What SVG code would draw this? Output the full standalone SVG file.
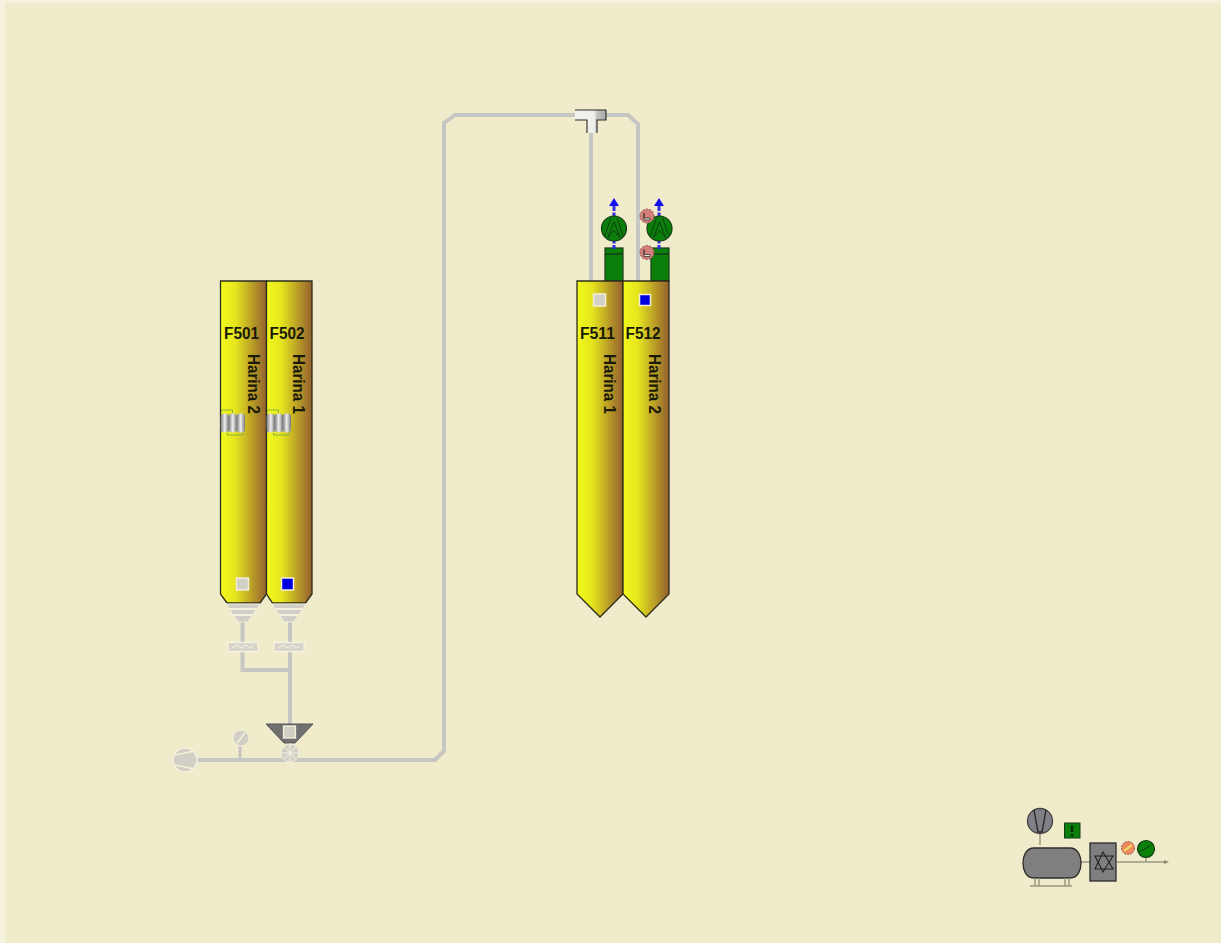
<svg xmlns="http://www.w3.org/2000/svg" width="1221" height="943" viewBox="0 0 1221 943">
<style>
.pipe{fill:none;stroke:#c6c6c2;stroke-width:4}
.thin{fill:none;stroke:#c6c6c2;stroke-width:3}
.silo{fill:url(#sg);stroke:#2c2c1c;stroke-width:1.3}
.t{font:bold 16px "Liberation Sans",Arial,sans-serif;fill:#1a1a08}
.tag{font:bold 16px "Liberation Sans",Arial,sans-serif;fill:#1a1a08;text-anchor:middle}
.sq{stroke:#f2eed6;stroke-width:1.5}
.grn{fill:#0a800a;stroke:#143c14;stroke-width:1.2}
.wh{fill:#d2d0c6;stroke:#f4f1dc;stroke-width:1.3}
.gry{fill:#7f7f7f;stroke:#2c2c2c;stroke-width:1.3}
.ln{fill:none;stroke:#133c13;stroke-width:1}
.br{fill:none;stroke:#9a9880;stroke-width:1.5}
</style>
<defs>
<linearGradient id="sg" x1="0" x2="1" y1="0" y2="0"><stop offset="0" stop-color="#f2fa1c"/><stop offset=".32" stop-color="#e6e61e"/><stop offset="1" stop-color="#94602e"/></linearGradient>
<linearGradient id="cyl" x1="0" x2="1" y1="0" y2="0"><stop offset="0" stop-color="#77777a"/><stop offset=".5" stop-color="#eeeeee"/><stop offset="1" stop-color="#77777a"/></linearGradient>
<linearGradient id="tee" x1="0" x2="1" y1="0" y2="0"><stop offset="0" stop-color="#f2f2ee"/><stop offset=".62" stop-color="#eeeeea"/><stop offset=".7" stop-color="#c4c4c0"/><stop offset="1" stop-color="#a8a8a8"/></linearGradient>
<g id="drive"><path d="M-14-11V-13H-3V-10M-8 10V12H7V10" fill="none" stroke="#86b040" stroke-width="1"/><rect x="-15" y="-9.500" width="8.500" height="19" rx="3.500" fill="url(#cyl)"/><rect x="-7" y="-9.500" width="8.500" height="19" rx="3.500" fill="url(#cyl)"/><rect x="1" y="-9.500" width="8.500" height="19" rx="3.500" fill="url(#cyl)"/></g>
<g id="hopper"><path d="M-17 0H17L5 18H-5Z" fill="#d0cec6" stroke="#f4f1dc"/><path d="M-14 5H14M-10 11H10" stroke="#f4f1dc" stroke-width="1.800"/></g>
<g id="feeder"><rect x="-15" y="-4.500" width="30" height="9" fill="#d6d4ca" stroke="#f6f3de" stroke-width="1.300"/><path d="M-11 1L-6-2L-2 1L3-2L7 1L11-1" fill="none" stroke="#f6f3de"/></g>
<g id="fan"><circle r="12.500" class="grn"/><path d="M-3-11L-9 7M3-11L9 7M0-7L-6 9L0 2L6 9Z" class="ln"/></g>
<g id="alarm"><circle r="7" fill="#d27f7c" stroke="#8f4a4a" stroke-dasharray="2 1.500"/><path d="M-3-3V2H3V4H-3Z" fill="#e8e8e0" stroke="#333" stroke-width=".8"/></g>
<g id="up"><path d="M0-23V20" stroke="#3030e0" stroke-width="3" stroke-dasharray="5 1.500"/><path d="M-5-23L0-31L5-23Z" fill="#1111ee"/></g>
</defs>
<rect width="1221" height="943" fill="#f5f2df"/>
<rect x="5" y="3" width="1216" height="940" fill="#f0ebca"/>
<g id="connectors">
<path class="pipe" d="M197 760H435L444 751V123L455 115H628L638 124V281"/>
<path class="pipe" d="M591 125V281"/>
<path class="thin" d="M240 760V744"/>
<path class="pipe" d="M242.500 618V670H290M290 618V724"/>
<path class="br" d="M1040 845V832M1081 862H1090M1117 862H1164M1146 862V857"/>
<path d="M1164 860L1169 862L1164 864Z" fill="#8a8870"/>
</g>
<g id="F501"><path class="silo" d="M220.500 281H266.500V594L260 603H227L220.500 594Z"/>
<text class="tag" x="241.500" y="338.500" textLength="35" lengthAdjust="spacingAndGlyphs">F501</text><text class="t" transform="translate(248 354) rotate(90)" textLength="60" lengthAdjust="spacingAndGlyphs">Harina 2</text>
<rect class="sq" x="236.500" y="578" width="12" height="12" fill="#d2d0c6"/>
<use href="#drive" x="235.500" y="423"/><use href="#hopper" x="243" y="604"/><use href="#feeder" x="243" y="647"/></g>
<g id="F502"><path class="silo" d="M266.500 281H312V594L305.500 603H272.500L266.500 594Z"/>
<text class="tag" x="287" y="338.500" textLength="35" lengthAdjust="spacingAndGlyphs">F502</text><text class="t" transform="translate(293 354) rotate(90)" textLength="60" lengthAdjust="spacingAndGlyphs">Harina 1</text>
<rect class="sq" x="281.500" y="578" width="12" height="12" fill="#0000e0" stroke="#16163c"/>
<use href="#drive" x="281.500" y="423"/><use href="#hopper" x="289" y="604"/><use href="#feeder" x="289" y="647"/></g>
<g id="rotary">
<path d="M266 724H313L295 743H284Z" fill="#707070" stroke="#555"/>
<rect class="wh" x="283.500" y="726" width="12" height="12"/>
<circle cx="290" cy="753" r="9" fill="#d2d0c6" stroke="#f4f1dc"/><path d="M281 753H299M290 744V762M284 747L296 759M296 747L284 759" stroke="#f4f1dc"/>
</g>
<g id="gauge"><circle cx="241" cy="738" r="8" fill="#d2d0c6" stroke="#f4f1dc"/><path d="M237 743L245 733" stroke="#f4f1dc" stroke-width="1.500"/></g>
<g id="blower"><circle cx="185" cy="760" r="12" fill="#d2d0c6" stroke="#f4f1dc" stroke-width="1.500"/><path d="M175 755L195 751M175 765L195 769" stroke="#f4f1dc" stroke-width="1.500"/></g>
<g id="tee-fitting"><path d="M575 110H606V120H597V133H587V120H575Z" fill="url(#tee)"/><path d="M575 120H587V133M597 133V120H606V110H575" fill="none" stroke="#2a2a2a" stroke-width="1.100"/></g>
<g id="filter-F511"><rect class="grn" x="605" y="248" width="18" height="33"/><path d="M605 254H623" stroke="#143c14" stroke-width="1.500"/><use href="#up" x="614" y="229"/><use href="#fan" x="614" y="228.500"/></g>
<g id="filter-F512"><rect class="grn" x="651" y="248" width="18" height="33"/><path d="M651 254H669" stroke="#143c14" stroke-width="1.500"/><use href="#up" x="659" y="229"/><use href="#fan" x="659.500" y="228.500"/><use href="#alarm" x="647" y="216"/><use href="#alarm" x="647" y="252.500"/></g>
<g id="F511"><path class="silo" d="M577 281H623V594L600 617L577 594Z"/>
<rect class="sq" x="593.500" y="294" width="12" height="12" fill="#d2d0c6"/>
<text class="tag" x="597.500" y="338.500" textLength="35" lengthAdjust="spacingAndGlyphs">F511</text><text class="t" transform="translate(604 354) rotate(90)" textLength="60" lengthAdjust="spacingAndGlyphs">Harina 1</text></g>
<g id="F512"><path class="silo" d="M623 281H669V594L646 617L623 594Z"/>
<rect class="sq" x="639.500" y="294.500" width="11" height="11" fill="#0000e0"/>
<text class="tag" x="643" y="338.500" textLength="35" lengthAdjust="spacingAndGlyphs">F512</text><text class="t" transform="translate(649 354) rotate(90)" textLength="60" lengthAdjust="spacingAndGlyphs">Harina 2</text></g>
<g id="compressor"><circle cx="1040" cy="821" r="12.500" fill="#808088" stroke="#444" stroke-width="1.300"/><path d="M1034 810L1038 832H1042L1046 810" fill="none" stroke="#222" stroke-width="1.300"/></g>
<g id="warning"><rect x="1064.500" y="823" width="15.500" height="15" fill="#0a800a" stroke="#143c14"/><path d="M1072 825.500V832M1072 834V836.500" stroke="#0a2c0a" stroke-width="2.600"/></g>
<g id="tank"><path d="M1034 848H1070C1078 848 1081 856 1081 863C1081 870 1078 878 1070 878H1034C1026 878 1023 870 1023 863C1023 856 1026 848 1034 848Z" class="gry"/><path class="br" d="M1030 886H1072M1035 878V886M1039 878V886M1065 878V886M1069 878V886"/></g>
<g id="dryer"><rect x="1090" y="843" width="26" height="38" class="gry"/><path d="M1103 852L1113 869H1095ZM1103 872L1095 856H1113Z" fill="none" stroke="#222" stroke-width="1.100"/></g>
<g id="temp"><circle cx="1128" cy="848" r="6.500" fill="#ec8a60" stroke="#a05050" stroke-dasharray="2 1"/><path d="M1124 851L1132 845" stroke="#f4e060" stroke-width="2"/></g>
<g id="pressure"><circle cx="1146" cy="849" r="8.500" class="grn"/><path class="ln" d="M1139 852L1150 846" stroke-width="1.500"/></g>
</svg>
